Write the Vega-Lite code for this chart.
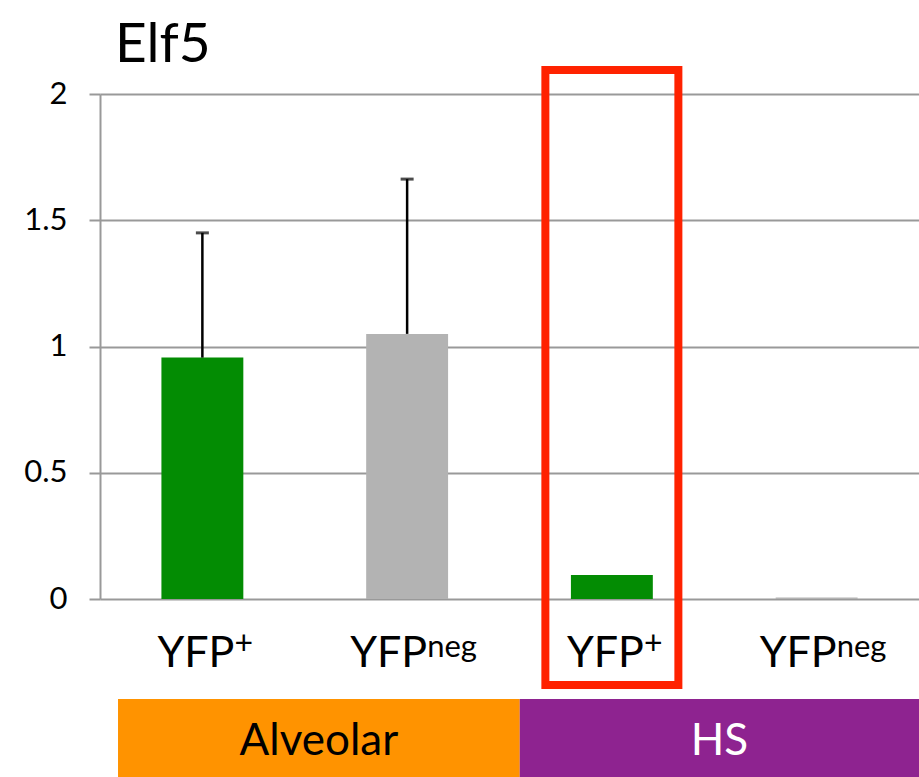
{
  "$schema": "https://vega.github.io/schema/vega-lite/v6.json",
  "width": 819,
  "height": 505,
  "autosize": "none",
  "padding": {"left": 100, "top": 94, "right": 0, "bottom": 178},
  "background": "white",
  "title": {"text": "Elf5", "anchor": "start", "frame": "group", "font": "Lato", "fontSize": 55, "fontWeight": "normal", "color": "black", "offset": -8, "dx": 15},
  "config": {"view": {"stroke": null}},
  "datasets": {
    "bars": [
      {"cat": "Alveolar YFP+", "group": "Alveolar", "main": "YFP", "sup": "+", "value": 0.956, "err": 1.45},
      {"cat": "Alveolar YFPneg", "group": "Alveolar", "main": "YFP", "sup": "neg", "value": 1.05, "err": 1.663},
      {"cat": "HS YFP+", "group": "HS", "main": "YFP", "sup": "+", "value": 0.095, "err": null},
      {"cat": "HS YFPneg", "group": "HS", "main": "YFP", "sup": "neg", "value": 0.006, "err": null}
    ],
    "groups": [
      {"group": "Alveolar", "start": 0.088, "end": 2.05, "mid": 1.069},
      {"group": "HS", "start": 2.05, "end": 4.0, "mid": 3.025}
    ],
    "highlight": [
      {"cat": "HS YFP+", "top": 2.095, "bottom": -0.341}
    ]
  },
  "layer": [
    {
      "layer": [
        {
          "data": {"name": "groups"},
          "mark": {"type": "rect"},
          "encoding": {
            "x": {"field": "start", "type": "quantitative", "scale": {"domain": [0, 4], "nice": false, "zero": false}, "axis": null},
            "x2": {"field": "end"},
            "y": {"datum": -0.396, "type": "quantitative"},
            "y2": {"datum": -0.75},
            "fill": {"condition": {"test": "datum.group === 'HS'", "value": "#8e2390"}, "value": "#ff9300"}
          }
        },
        {
          "data": {"name": "groups"},
          "mark": {"type": "text", "font": "Lato", "fontSize": 44, "align": "center", "baseline": "alphabetic"},
          "encoding": {
            "x": {"field": "mid", "type": "quantitative"},
            "y": {"datum": -0.618, "type": "quantitative"},
            "text": {"field": "group"},
            "color": {"condition": {"test": "datum.group === 'HS'", "value": "white"}, "value": "black"}
          }
        }
      ]
    },
    {
      "layer": [
        {
          "data": {"name": "bars"},
          "mark": {"type": "bar"},
          "encoding": {
            "x": {"field": "cat", "type": "nominal", "sort": null, "scale": {"domain": ["Alveolar YFP+", "Alveolar YFPneg", "HS YFP+", "HS YFPneg"], "paddingInner": 0.6, "paddingOuter": 0.3}, "axis": null},
            "y": {"field": "value", "type": "quantitative", "scale": {"domain": [0, 2], "nice": false}, "axis": {"values": [0, 0.5, 1, 1.5, 2], "format": "~g", "title": null, "grid": true, "gridColor": "#999999", "gridWidth": 2, "domain": true, "domainColor": "#999999", "domainWidth": 2, "ticks": true, "tickColor": "#999999", "tickWidth": 2, "tickSize": 11, "labelFont": "Lato", "labelFontSize": 31, "labelColor": "black", "labelPadding": 22}},
            "color": {"condition": {"test": "datum.sup === '+'", "value": "#038c03"}, "value": "#b3b3b3"}
          }
        },
        {
          "data": {"name": "bars"},
          "transform": [{"filter": "datum.err != null"}],
          "mark": {"type": "rule", "color": "black", "strokeWidth": 2.5},
          "encoding": {
            "x": {"field": "cat", "type": "nominal"},
            "y": {"field": "value", "type": "quantitative"},
            "y2": {"field": "err"}
          }
        },
        {
          "data": {"name": "bars"},
          "transform": [{"filter": "datum.err != null"}],
          "mark": {"type": "tick", "color": "black", "size": 13, "thickness": 3, "orient": "horizontal"},
          "encoding": {
            "x": {"field": "cat", "type": "nominal"},
            "y": {"field": "err", "type": "quantitative"}
          }
        },
        {
          "data": {"name": "bars"},
          "transform": [{"filter": "datum.sup === '+'"}],
          "mark": {"type": "text", "font": "Lato", "fontSize": 43, "align": "right", "baseline": "alphabetic", "dx": 32, "dy": 68, "color": "black"},
          "encoding": {
            "x": {"field": "cat", "type": "nominal"},
            "y": {"datum": 0, "type": "quantitative"},
            "text": {"field": "main"}
          }
        },
        {
          "data": {"name": "bars"},
          "transform": [{"filter": "datum.sup === '+'"}],
          "mark": {"type": "text", "font": "Lato", "fontSize": 32, "align": "left", "baseline": "alphabetic", "dx": 32, "dy": 55, "color": "black"},
          "encoding": {
            "x": {"field": "cat", "type": "nominal"},
            "y": {"datum": 0, "type": "quantitative"},
            "text": {"field": "sup"}
          }
        },
        {
          "data": {"name": "bars"},
          "transform": [{"filter": "datum.sup === 'neg'"}],
          "mark": {"type": "text", "font": "Lato", "fontSize": 43, "align": "right", "baseline": "alphabetic", "dx": 20, "dy": 68, "color": "black"},
          "encoding": {
            "x": {"field": "cat", "type": "nominal"},
            "y": {"datum": 0, "type": "quantitative"},
            "text": {"field": "main"}
          }
        },
        {
          "data": {"name": "bars"},
          "transform": [{"filter": "datum.sup === 'neg'"}],
          "mark": {"type": "text", "font": "Lato", "fontSize": 31, "align": "left", "baseline": "alphabetic", "dx": 20, "dy": 58, "color": "black"},
          "encoding": {
            "x": {"field": "cat", "type": "nominal"},
            "y": {"datum": 0, "type": "quantitative"},
            "text": {"field": "sup"}
          }
        },
        {
          "data": {"name": "highlight"},
          "mark": {"type": "bar", "fillOpacity": 0, "stroke": "#ff2200", "strokeWidth": 8, "width": {"band": 1.624}},
          "encoding": {
            "x": {"field": "cat", "type": "nominal"},
            "y": {"field": "top", "type": "quantitative"},
            "y2": {"field": "bottom"}
          }
        }
      ]
    }
  ],
  "resolve": {"scale": {"x": "independent"}}
}
